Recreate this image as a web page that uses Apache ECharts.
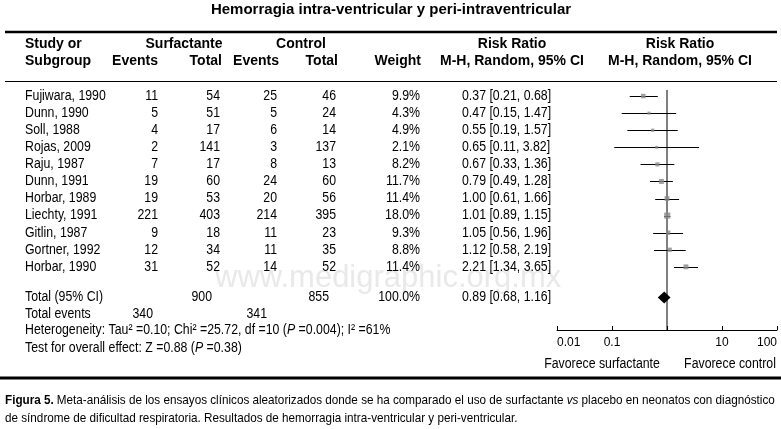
<!DOCTYPE html>
<html><head><meta charset="utf-8">
<script src="https://cdn.jsdelivr.net/npm/echarts@6/dist/echarts.min.js"></script>
<style>html,body{margin:0;padding:0;background:#fff}#c{width:781px;height:429px}</style>
</head><body><div id="c"></div>
<script>
// ---- data ----
const studies = ['Fujiwara, 1990','Dunn, 1990','Soll, 1988','Rojas, 2009','Raju, 1987','Dunn, 1991','Horbar, 1989','Liechty, 1991','Gitlin, 1987','Gortner, 1992','Horbar, 1990'];
const surfEvents = [11,5,4,2,7,19,19,221,9,12,31];
const surfTotal  = [54,51,17,141,17,60,53,403,18,34,52];
const ctrlEvents = [25,5,6,3,8,24,20,214,11,11,14];
const ctrlTotal  = [46,24,14,137,13,60,56,395,23,35,52];
const weights    = [9.9,4.3,4.9,2.1,8.2,11.7,11.4,18.0,9.3,8.8,11.4];
const riskRatio  = [0.37,0.47,0.55,0.65,0.67,0.79,1.00,1.01,1.05,1.12,2.21];
const ciLow      = [0.21,0.15,0.19,0.11,0.33,0.49,0.61,0.89,0.56,0.58,1.34];
const ciHigh     = [0.68,1.47,1.57,3.82,1.36,1.28,1.66,1.15,1.96,2.19,3.65];
const totalSurf = 900, totalCtrl = 855, totalWeight = 100.0;
const totalRR = [0.68, 0.89, 1.16];
const totalEventsSurf = 340, totalEventsCtrl = 341;
const tickLabels = ['0.01','0.1','','10','100'];

// ---- styles / layout ----
const FAM = '"Liberation Sans",Arial,sans-serif';
const fN = (s) => s + 'px ' + FAM;
const fB = (s) => 'bold ' + s + 'px ' + FAM;
const NX = 0.88;   // condensed look for body text
const colX = {name:25, se:158, st:220, ce:277, ct:336, w:420, rr:462};
const TOTAL_ROW = 11.8, EVENTS_ROW = 12.75;

function txt(x, y, text, align, font, sx) {
  return {type:'text', x:x, y:y, scaleX:(sx === undefined ? NX : sx), scaleY:1,
    style:{text:text, fill:'#000', font:font || fN(14), align:align || 'left', verticalAlign:'middle'}};
}
const fmtRR = (i) => riskRatio[i].toFixed(2) + ' [' + ciLow[i].toFixed(2) + ', ' + ciHigh[i].toFixed(2) + ']';

const chart = echarts.init(document.getElementById('c'), null, {renderer:'canvas'});
const option = {
  animation:false,
  backgroundColor:'#fff',
  grid:{left:557, right:4, top:79, bottom:99, containLabel:false, outerBoundsMode:'none'},
  xAxis:{type:'log', logBase:10, min:0.01, max:100,
    axisLine:{onZero:false, lineStyle:{color:'#000', width:1}},
    axisTick:{show:true, inside:true, length:4, lineStyle:{color:'#000'}},
    splitLine:{show:false}, minorTick:{show:false},
    axisLabel:{color:'#000', fontFamily:FAM, fontSize:12, margin:7,
      alignMinLabel:'left', alignMaxLabel:'right',
      formatter:(v, idx) => tickLabels[idx] !== undefined ? tickLabels[idx] : ''}},
  yAxis:{type:'value', inverse:true, min:-1, max:13.7, show:false},
  series:[
    // reference line at RR = 1
    {type:'line', data:[[1,-0.36],[1,13.7]], symbol:'none', lineStyle:{color:'#000', width:1}, silent:true, z:2},
    // CI whiskers
    {type:'custom', data:riskRatio.map((v,i)=>[ciLow[i], ciHigh[i], i]), z:3,
      renderItem:(p, api) => {
        const a = api.coord([api.value(0), api.value(2)]);
        const b = api.coord([api.value(1), api.value(2)]);
        return {type:'line', shape:{x1:a[0], y1:Math.round(a[1])+0.5, x2:b[0], y2:Math.round(a[1])+0.5}, style:{stroke:'#000', lineWidth:1}};
      }},
    // point estimates, square size by weight
    {type:'scatter', symbol:'rect', data:riskRatio.map((v,i)=>[v, i, weights[i]]), z:4,
      symbolSize:(d) => Math.max(3, 1.45*Math.sqrt(d[2])),
      itemStyle:{color:'#8a8a8a'}},
    // pooled diamond
    {type:'custom', data:[[totalRR[0], totalRR[1], totalRR[2], TOTAL_ROW]], z:4,
      renderItem:(p, api) => {
        const y = api.value(3);
        const l = api.coord([api.value(0), y]), m = api.coord([api.value(1), y]), r = api.coord([api.value(2), y]);
        return {type:'polygon', shape:{points:[[l[0], l[1]], [m[0], m[1]-6], [r[0], r[1]], [m[0], m[1]+6]]}, style:{fill:'#000'}};
      }},
    // table rows
    {type:'custom', data:studies.map((s,i)=>[i]), z:5, silent:true,
      renderItem:(p, api) => {
        const i = api.value(0);
        const y = api.coord([1, i])[1];
        return {type:'group', children:[
          txt(colX.name, y, studies[i], 'left'),
          txt(colX.se, y, String(surfEvents[i]), 'right'),
          txt(colX.st, y, String(surfTotal[i]), 'right'),
          txt(colX.ce, y, String(ctrlEvents[i]), 'right'),
          txt(colX.ct, y, String(ctrlTotal[i]), 'right'),
          txt(colX.w, y, weights[i].toFixed(1) + '%', 'right'),
          txt(colX.rr, y, fmtRR(i), 'left')
        ]};
      }},
    // totals rows
    {type:'custom', data:[[TOTAL_ROW, EVENTS_ROW]], z:5, silent:true,
      renderItem:(p, api) => {
        const y1 = api.coord([1, api.value(0)])[1];
        const y2 = api.coord([1, api.value(1)])[1];
        return {type:'group', children:[
          txt(colX.name, y1, 'Total (95% CI)', 'left'),
          txt(colX.st - 8, y1, String(totalSurf), 'right'),
          txt(colX.ct - 7, y1, String(totalCtrl), 'right'),
          txt(colX.w, y1, totalWeight.toFixed(1) + '%', 'right'),
          txt(colX.rr, y1, totalRR[1].toFixed(2) + ' [' + totalRR[0].toFixed(2) + ', ' + totalRR[2].toFixed(2) + ']', 'left'),
          txt(colX.name, y2, 'Total events', 'left'),
          txt(colX.se - 5, y2, String(totalEventsSurf), 'right'),
          txt(colX.ce - 10, y2, String(totalEventsCtrl), 'right')
        ]};
      }}
  ],
  graphic:[
    // watermark
    {type:'text', x:215, y:278, z:-1, silent:true, style:{text:'www.medigraphic.org.mx', fill:'#e9e9e9', font:fN(31), verticalAlign:'middle'}},
    // title
    txt(391, 10, 'Hemorragia intra-ventricular y peri-intraventricular', 'center', fB(15), 1),
    // rules
    {type:'line', shape:{x1:5, y1:32, x2:777, y2:32}, style:{stroke:'#000', lineWidth:2.5}},
    {type:'line', shape:{x1:5, y1:81.5, x2:777, y2:81.5}, style:{stroke:'#000', lineWidth:1}},
    {type:'line', shape:{x1:0, y1:378, x2:781, y2:378}, style:{stroke:'#000', lineWidth:3}},
    // headers
    txt(25, 44, 'Study or', 'left', fB(14), 1),
    txt(25, 61, 'Subgroup', 'left', fB(14), 1),
    txt(184, 44, 'Surfactante', 'center', fB(14), 1),
    txt(301, 44, 'Control', 'center', fB(14), 1),
    txt(158, 61, 'Events', 'right', fB(14), 1),
    txt(222, 61, 'Total', 'right', fB(14), 1),
    txt(279, 61, 'Events', 'right', fB(14), 1),
    txt(338, 61, 'Total', 'right', fB(14), 1),
    txt(421, 61, 'Weight', 'right', fB(14), 1),
    txt(512, 44, 'Risk Ratio', 'center', fB(14), 1),
    txt(512, 61, 'M-H, Random, 95% CI', 'center', fB(14), 1),
    txt(680, 44, 'Risk Ratio', 'center', fB(14), 1),
    txt(680, 61, 'M-H, Random, 95% CI', 'center', fB(14), 1),
    // heterogeneity / test
    {type:'text', x:25, y:330, scaleX:NX, style:{text:'{a|Heterogeneity: Tau² =0.10; Chi² =25.72, df =10 (}{i|P}{a| =0.004); I² =61%}', verticalAlign:'middle',
      rich:{a:{font:fN(14), fill:'#000'}, i:{font:'italic ' + fN(14), fill:'#000'}}}},
    {type:'text', x:25, y:348, scaleX:NX, style:{text:'{a|Test for overall effect: Z =0.88 (}{i|P}{a| =0.38)}', verticalAlign:'middle',
      rich:{a:{font:fN(14), fill:'#000'}, i:{font:'italic ' + fN(14), fill:'#000'}}}},
    // favours labels
    txt(602, 364, 'Favorece surfactante', 'center'),
    txt(730, 364, 'Favorece control', 'center'),
    // caption
    {type:'text', x:5, y:400, scaleX:0.9, style:{text:'{b|Figura 5.} {a|Meta-análisis de los ensayos clínicos aleatorizados donde se ha comparado el uso de surfactante }{i|vs}{a| placebo en neonatos con diagnóstico}', verticalAlign:'middle',
      rich:{a:{font:fN(13), fill:'#000'}, b:{font:fB(13), fill:'#000'}, i:{font:'italic ' + fN(13), fill:'#000'}}}},
    {type:'text', x:5, y:418, scaleX:0.9, style:{text:'de síndrome de dificultad respiratoria. Resultados de hemorragia intra-ventricular y peri-ventricular.', fill:'#000', font:fN(13), verticalAlign:'middle'}}
  ]
};
chart.setOption(option);
</script></body></html>
